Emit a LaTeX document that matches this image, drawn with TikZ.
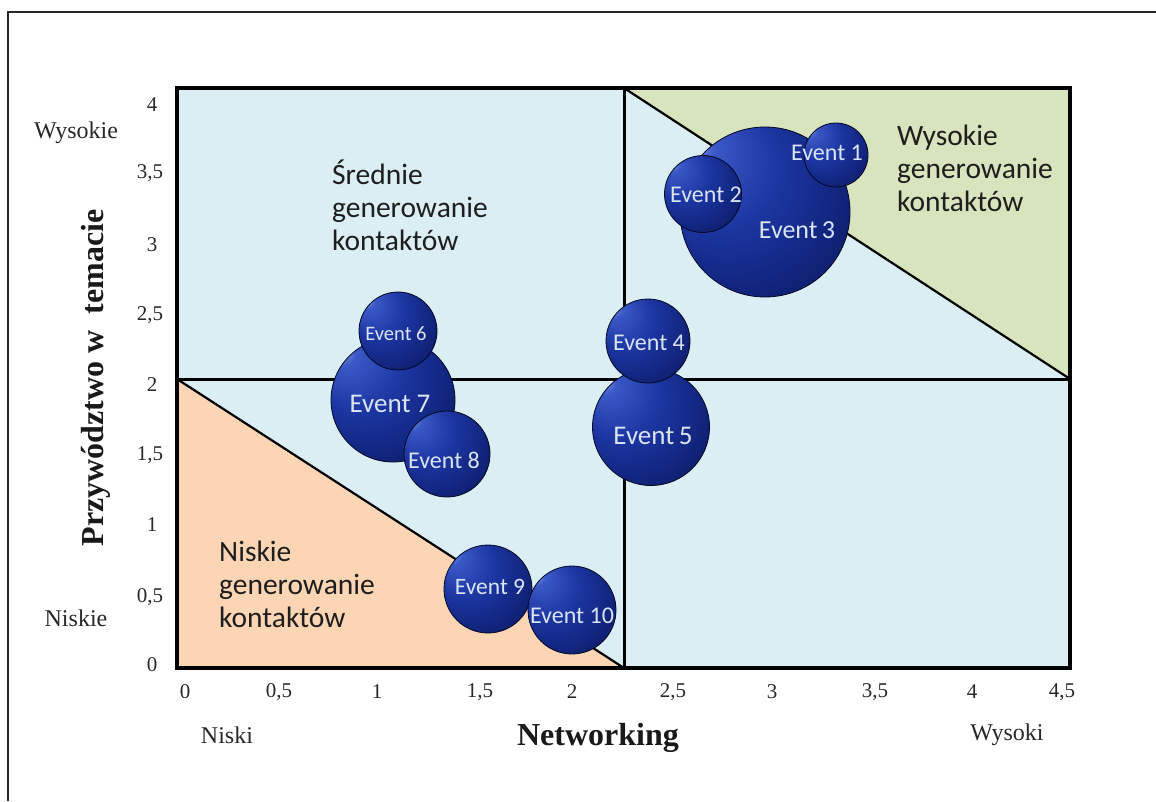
\documentclass[tikz,border=0pt]{standalone}
\usepackage{fontspec}
\setmainfont{Liberation Serif}
\newfontfamily\calfont{Carlito}

% quadrant fills
\definecolor{zoneblue}{RGB}{219,238,243}
\definecolor{zonegreen}{RGB}{215,228,189}
\definecolor{zoneorange}{RGB}{252,213,181}
\definecolor{zonetext}{RGB}{30,30,30}
\definecolor{ticktext}{RGB}{40,40,40}
\definecolor{bubtext}{RGB}{218,228,244}
% bubble gradient
\definecolor{bubA}{RGB}{140,165,232}
\definecolor{bubB}{RGB}{58,88,198}
\definecolor{bubC}{RGB}{28,54,162}
\definecolor{bubD}{RGB}{18,38,128}
\definecolor{bubE}{RGB}{10,22,84}
\definecolor{bubF}{RGB}{3,8,34}

\pgfdeclareradialshading{bubble}{\pgfpoint{-22bp}{21bp}}{%
  color(0bp)=(bubA); color(5bp)=(bubB); color(18bp)=(bubC);
  color(30bp)=(bubD); color(42bp)=(bubE); color(50bp)=(bubF)}

\tikzset{
  sphere/.style={circle, inner sep=0pt, shading=bubble, draw=bubF, line width=0.8pt},
  evtext/.style={font=\calfont\fontsize{#1}{#1}\selectfont, text=bubtext, inner sep=0pt},
  zonelabel/.style={font=\calfont\fontsize{29.5}{33}\selectfont, text=zonetext, align=left, anchor=west, inner sep=0pt},
  tick/.style={font=\fontsize{21}{21}\selectfont, text=ticktext, inner sep=0pt},
  endlabel/.style={font=\fontsize{24}{24}\selectfont, text=ticktext, inner sep=0pt},
  axtitle/.style={font=\bfseries\fontsize{32}{32}\selectfont, text=black!90, inner sep=0pt},
  frameline/.style={line width=3.2pt, line cap=rect},
  divider/.style={line width=3pt},
  slope/.style={line width=2.2pt},
}

\begin{document}
\begin{tikzpicture}[x=1pt, y=-1pt]
\useasboundingbox (0,0) rectangle (1156,801);
\fill[white] (0,0) rectangle (1156,801);

% outer page frame
\draw[line width=1.5pt, black!85] (8,801) -- (8,12) -- (1156,12);

% plot corners and midpoints
\coordinate (tl) at (177,88);
\coordinate (tr) at (1070,88);
\coordinate (bl) at (177,668);
\coordinate (br) at (1070,668);
\coordinate (mt) at (624,88);
\coordinate (mb) at (624,668);
\coordinate (ml) at (177,379);
\coordinate (mr) at (1070,379);

% zones
\fill[zoneblue] (tl) rectangle (br);
\fill[zonegreen] (mt) -- (tr) -- (mr) -- cycle;
\fill[zoneorange] (ml) -- (bl) -- (mb) -- cycle;

% dividers and diagonals
\draw[divider] (mt) -- (mb);
\draw[divider] (ml) -- (mr);
\draw[slope] (mt) -- (mr);
\draw[slope] (ml) -- (mb);
\draw[frameline] (tl) rectangle (br);

% zone labels
\node[zonelabel] (zmid) at (332,205) {Średnie\\generowanie\\kontaktów};
\node[zonelabel] (zhigh) at (897,168) {Wysokie\\generowanie\\kontaktów};
\node[zonelabel] (zlow) at (219,584) {Niskie\\generowanie\\kontaktów};

% bubbles, largest at the back
\node[sphere, minimum size=170pt] (e3) at (765,212) {};
\node[sphere, minimum size=124pt] (e7) at (393,400) {};
\node[sphere, minimum size=117pt] (e5) at (651,427) {};
\node[sphere, minimum size=86pt] (e8) at (447,454) {};
\node[sphere, minimum size=88pt] (e9) at (488,589) {};
\node[sphere, minimum size=88pt] (e10) at (572,610) {};
\node[sphere, minimum size=84pt] (e4) at (648,341) {};
\node[sphere, minimum size=78pt] (e6) at (398,331) {};
\node[sphere, minimum size=77pt] (e2) at (703,194) {};
\node[sphere, minimum size=64pt] (e1) at (836,155) {};

\node[evtext=24] (t1) at (827,153) {Event 1};
\node[evtext=24] (t2) at (706,195) {Event 2};
\node[evtext=26] (t3) at (797,230) {Event\,3};
\node[evtext=24] (t4) at (649,343) {Event 4};
\node[evtext=27] (t5) at (653,436) {Event\,5};
\node[evtext=20.5] (t6) at (396,334) {Event 6};
\node[evtext=27] (t7) at (390,404) {Event 7};
\node[evtext=24] (t8) at (444,460) {Event 8};
\node[evtext=23.5] (t9) at (490,587) {Event 9};
\node[evtext=24] (t10) at (572,616) {Event 10};

% x ticks
\node[tick] (x0) at (185,692) {0};
\node[tick] (x05) at (279,692) {0,5};
\node[tick] (x1) at (377,692) {1};
\node[tick] (x15) at (480,692) {1,5};
\node[tick] (x2) at (572,692) {2};
\node[tick] (x25) at (673,692) {2,5};
\node[tick] (x3) at (772,692) {3};
\node[tick] (x35) at (875,692) {3,5};
\node[tick] (x4) at (972,692) {4};
\node[tick] (x45) at (1062,692) {4,5};

% y ticks
\node[tick] (y4) at (152,105) {4};
\node[tick] (y35) at (150,173) {3,5};
\node[tick] (y3) at (152,245) {3};
\node[tick] (y25) at (150,315) {2,5};
\node[tick] (y2) at (152,385) {2};
\node[tick] (y15) at (150,455) {1,5};
\node[tick] (y1) at (152,525) {1};
\node[tick] (y05) at (150,597) {0,5};
\node[tick] (y0) at (152,665) {0};

% axis end labels
\node[endlabel] (xlo) at (227,735) {Niski};
\node[endlabel] (xhi) at (1007,735) {Wysoki};
\node[endlabel] (ylo) at (76,618) {Niskie};
\node[endlabel] (yhi) at (76,133) {Wysokie};

% axis titles
\node[axtitle] (xtitle) at (598,738) {Networking};
\node[axtitle, rotate=90] (ytitle) at (96,378) {Przywództwo w~~temacie};
\end{tikzpicture}
\end{document}
